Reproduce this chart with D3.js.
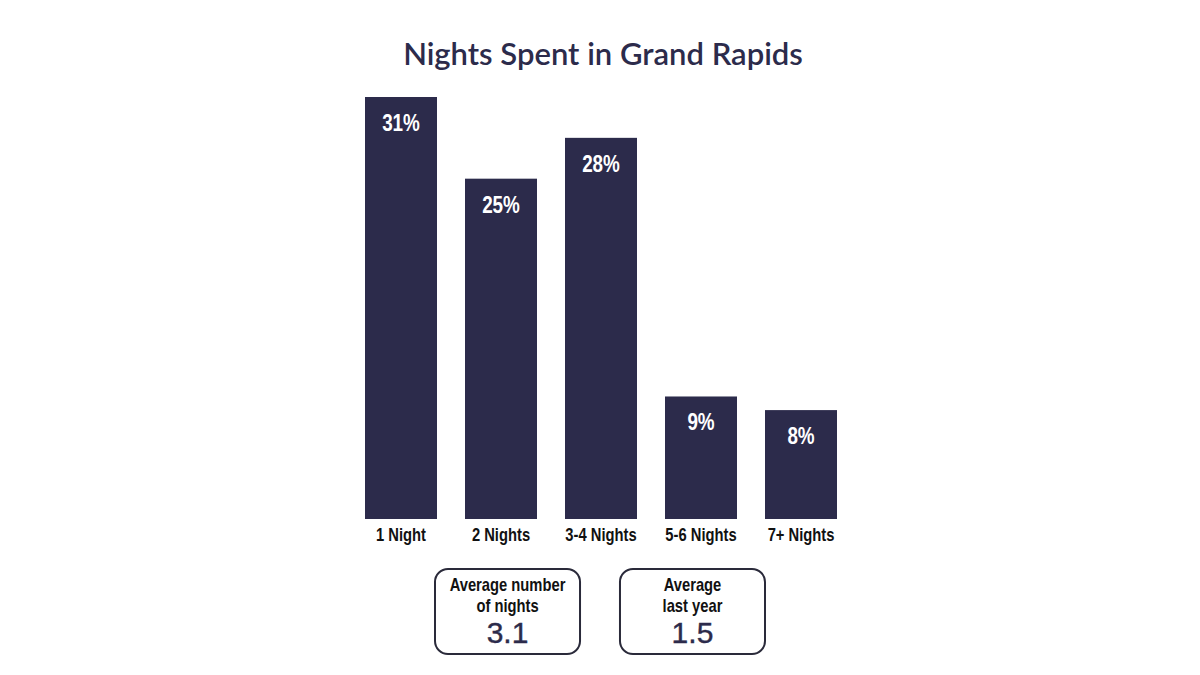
<!DOCTYPE html>
<html>
<head>
<meta charset="utf-8">
<script src="https://cdn.jsdelivr.net/npm/d3@7"></script>
<style>
  body { margin: 0; background: #fff; }
  svg { display: block; }
</style>
</head>
<body>
<svg width="1200" height="675"></svg>
<script>
const categories = ["1 Night", "2 Nights", "3-4 Nights", "5-6 Nights", "7+ Nights"];
const shares = [31, 25, 28, 9, 8];
const boxLabels = [["Average number", "of nights"], ["Average", "last year"]];
const boxValues = ["3.1", "1.5"];

const navy = "#2c2b4b";
const sans = "'Liberation Sans', Arial, sans-serif";
// no narrow face installed, so squeeze the bold sans horizontally
const squeeze = "scale(0.82,1)";

const svg = d3.select("svg");

svg.append("text")
  .attr("x", 603)
  .attr("y", 65)
  .attr("text-anchor", "middle")
  .attr("fill", navy)
  .style("font-family", "Lato, 'Open Sans', sans-serif")
  .style("font-weight", 600)
  .style("font-size", "31px")
  .text("Nights Spent in Grand Rapids");

const x = d3.scaleBand()
  .domain(categories)
  .range([351, 851])
  .paddingInner(0.28)
  .paddingOuter(0.14);

const y = d3.scaleLinear()
  .domain([0, 31])
  .range([519, 97]);

const bars = svg.append("g");

bars.selectAll("rect")
  .data(categories)
  .join("rect")
  .attr("x", d => x(d))
  .attr("y", (d, i) => y(shares[i]))
  .attr("width", x.bandwidth())
  .attr("height", (d, i) => y(0) - y(shares[i]))
  .attr("fill", navy);

bars.selectAll("text.val")
  .data(categories)
  .join("text")
  .attr("class", "val")
  .attr("transform", (d, i) => `translate(${x(d) + x.bandwidth() / 2},${y(shares[i]) + 34}) ${squeeze}`)
  .attr("text-anchor", "middle")
  .attr("fill", "#fff")
  .style("font-family", sans)
  .style("font-weight", "bold")
  .style("font-size", "23px")
  .text((d, i) => shares[i] + "%");

// category axis, no line or ticks
const xAxis = svg.append("g")
  .attr("transform", "translate(0,519)")
  .call(d3.axisBottom(x).tickSize(0).tickPadding(9));
xAxis.select(".domain").remove();
xAxis.selectAll("text")
  .attr("transform", squeeze)
  .attr("fill", "#111")
  .style("font-family", sans)
  .style("font-weight", "bold")
  .style("font-size", "18px");

// summary boxes
const boxX = d3.scaleBand()
  .domain(boxValues.map((d, i) => i))
  .range([435, 765])
  .paddingInner(0.216)
  .paddingOuter(0);

const boxes = svg.append("g").selectAll("g")
  .data(boxValues)
  .join("g")
  .attr("transform", (d, i) => `translate(${boxX(i)},569)`);

boxes.append("rect")
  .attr("width", boxX.bandwidth())
  .attr("height", 85)
  .attr("rx", 13)
  .attr("fill", "#fff")
  .attr("stroke", "#2a2a3a")
  .attr("stroke-width", 2);

boxes.each(function(d, i) {
  const g = d3.select(this);
  const cx = boxX.bandwidth() / 2;
  boxLabels[i].forEach((line, j) => {
    g.append("text")
      .attr("transform", `translate(${cx},${22 + j * 21}) ${squeeze}`)
      .attr("text-anchor", "middle")
      .attr("fill", "#111")
      .style("font-family", sans)
      .style("font-weight", "bold")
      .style("font-size", "18px")
      .text(line);
  });
  g.append("text")
    .attr("x", cx)
    .attr("y", 74)
    .attr("text-anchor", "middle")
    .attr("fill", navy)
    .style("font-family", sans)
    .style("font-size", "30px")
    .style("stroke", navy)
    .style("stroke-width", 0.4)
    .text(d);
});
</script>
</body>
</html>
